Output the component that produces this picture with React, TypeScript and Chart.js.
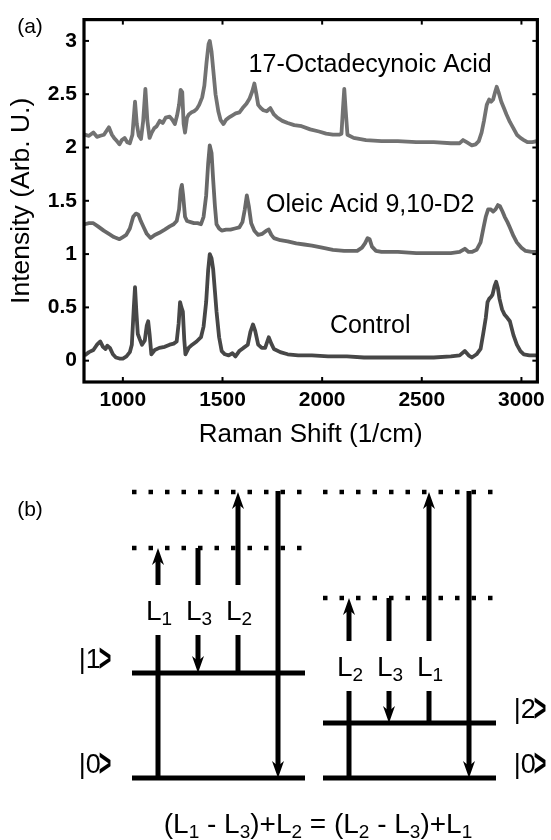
import React, { useEffect, useRef } from 'react';
import { Chart, registerables } from 'chart.js';

Chart.register(...registerables);

const FONT = '"Liberation Sans", Arial, Helvetica, sans-serif';

// ---------- Panel (a) data ----------
const xTicks = [1000, 1500, 2000, 2500, 3000];
const yTicks = [0, 0.5, 1, 1.5, 2, 2.5, 3];
const seriesNames = ['17-Octadecynoic Acid', 'Oleic Acid 9,10-D2', 'Control'];

const octShift = [808, 830, 852, 870, 887, 905, 930, 945, 956, 970, 983, 995, 1009, 1022, 1035, 1048, 1061, 1070, 1080, 1091, 1102, 1113, 1123, 1134, 1145, 1157, 1170, 1185, 1200, 1215, 1235, 1248, 1261, 1272, 1282, 1290, 1298, 1305, 1312, 1322, 1331, 1345, 1357, 1370, 1383, 1398, 1409, 1420, 1430, 1436, 1445, 1453, 1465, 1479, 1490, 1505, 1518, 1531, 1548, 1566, 1585, 1601, 1620, 1636, 1650, 1660, 1670, 1679, 1692, 1705, 1722, 1740, 1758, 1775, 1800, 1827, 1860, 1897, 1940, 1984, 2020, 2054, 2085, 2097, 2104, 2111, 2118, 2127, 2158, 2220, 2298, 2380, 2472, 2560, 2646, 2690, 2707, 2725, 2751, 2770, 2786, 2800, 2812, 2826, 2838, 2848, 2858, 2868, 2876, 2885, 2899, 2912, 2925, 2942, 2960, 2977, 2995, 3012, 3030, 3055, 3078];
const octIntensity = [2.12, 2.11, 2.14, 2.10, 2.11, 2.12, 2.19, 2.12, 2.09, 2.06, 2.03, 2.07, 2.09, 2.05, 2.04, 2.12, 2.43, 2.22, 2.11, 2.08, 2.25, 2.55, 2.25, 2.09, 2.14, 2.18, 2.20, 2.25, 2.23, 2.28, 2.29, 2.26, 2.22, 2.30, 2.40, 2.54, 2.52, 2.22, 2.14, 2.28, 2.31, 2.33, 2.34, 2.36, 2.40, 2.47, 2.58, 2.80, 2.97, 3.00, 2.90, 2.74, 2.50, 2.34, 2.26, 2.22, 2.26, 2.28, 2.30, 2.32, 2.33, 2.37, 2.41, 2.46, 2.53, 2.60, 2.50, 2.40, 2.37, 2.35, 2.34, 2.37, 2.31, 2.28, 2.25, 2.23, 2.21, 2.20, 2.17, 2.15, 2.13, 2.12, 2.12, 2.13, 2.35, 2.55, 2.35, 2.12, 2.09, 2.07, 2.06, 2.06, 2.05, 2.05, 2.04, 2.04, 2.07, 2.05, 2.02, 2.03, 2.06, 2.14, 2.25, 2.40, 2.45, 2.43, 2.45, 2.52, 2.57, 2.52, 2.43, 2.37, 2.31, 2.24, 2.18, 2.12, 2.09, 2.07, 2.05, 2.05, 2.06];

const oleShift = [808, 830, 852, 875, 904, 930, 955, 983, 1000, 1017, 1035, 1052, 1066, 1078, 1090, 1105, 1120, 1139, 1160, 1183, 1210, 1235, 1255, 1270, 1282, 1290, 1296, 1302, 1312, 1322, 1340, 1357, 1375, 1392, 1405, 1418, 1428, 1436, 1445, 1453, 1462, 1470, 1483, 1496, 1518, 1540, 1562, 1584, 1600, 1612, 1622, 1632, 1644, 1660, 1679, 1700, 1720, 1732, 1745, 1758, 1790, 1827, 1870, 1910, 1949, 2000, 2054, 2110, 2150, 2176, 2200, 2215, 2228, 2238, 2250, 2270, 2298, 2380, 2472, 2560, 2646, 2690, 2716, 2735, 2751, 2775, 2795, 2810, 2821, 2833, 2845, 2858, 2870, 2882, 2892, 2905, 2916, 2930, 2942, 2960, 2977, 3000, 3021, 3050, 3078];
const oleIntensity = [1.28, 1.29, 1.29, 1.26, 1.22, 1.19, 1.16, 1.14, 1.16, 1.18, 1.24, 1.35, 1.38, 1.37, 1.31, 1.25, 1.19, 1.15, 1.18, 1.20, 1.23, 1.26, 1.28, 1.31, 1.42, 1.60, 1.65, 1.56, 1.35, 1.31, 1.30, 1.29, 1.29, 1.28, 1.35, 1.55, 1.85, 2.02, 1.95, 1.70, 1.45, 1.28, 1.24, 1.22, 1.23, 1.23, 1.24, 1.25, 1.30, 1.42, 1.55, 1.45, 1.29, 1.22, 1.18, 1.19, 1.22, 1.23, 1.18, 1.15, 1.13, 1.12, 1.10, 1.09, 1.08, 1.06, 1.04, 1.03, 1.03, 1.03, 1.06, 1.10, 1.15, 1.14, 1.07, 1.03, 1.02, 1.02, 1.01, 1.01, 1.01, 1.02, 1.05, 1.02, 1.02, 1.04, 1.11, 1.25, 1.35, 1.42, 1.42, 1.40, 1.42, 1.46, 1.45, 1.40, 1.35, 1.30, 1.25, 1.17, 1.11, 1.06, 1.03, 1.02, 1.02];

const ctlShift = [808, 830, 852, 870, 887, 900, 913, 922, 935, 950, 965, 983, 1000, 1018, 1035, 1045, 1055, 1061, 1068, 1075, 1085, 1096, 1110, 1120, 1127, 1134, 1143, 1160, 1183, 1210, 1235, 1255, 1270, 1280, 1287, 1294, 1301, 1308, 1314, 1330, 1348, 1370, 1392, 1405, 1418, 1428, 1436, 1445, 1453, 1462, 1470, 1483, 1496, 1512, 1531, 1550, 1565, 1584, 1605, 1627, 1640, 1653, 1664, 1679, 1697, 1714, 1732, 1745, 1758, 1790, 1827, 1880, 1949, 2030, 2124, 2210, 2298, 2390, 2472, 2560, 2646, 2690, 2716, 2735, 2751, 2775, 2795, 2808, 2821, 2830, 2838, 2848, 2855, 2865, 2873, 2882, 2890, 2903, 2916, 2930, 2942, 2960, 2977, 2995, 3012, 3040, 3078];
const ctlIntensity = [0.05, 0.08, 0.10, 0.15, 0.18, 0.13, 0.11, 0.14, 0.12, 0.06, 0.03, 0.02, 0.02, 0.04, 0.08, 0.15, 0.50, 0.69, 0.45, 0.25, 0.20, 0.15, 0.19, 0.33, 0.37, 0.25, 0.06, 0.10, 0.12, 0.13, 0.15, 0.16, 0.18, 0.35, 0.55, 0.50, 0.46, 0.20, 0.06, 0.12, 0.15, 0.18, 0.22, 0.32, 0.55, 0.85, 1.00, 0.96, 0.86, 0.65, 0.46, 0.22, 0.09, 0.06, 0.05, 0.07, 0.04, 0.09, 0.12, 0.15, 0.27, 0.34, 0.28, 0.15, 0.12, 0.12, 0.22, 0.16, 0.11, 0.08, 0.06, 0.05, 0.05, 0.04, 0.04, 0.03, 0.03, 0.03, 0.03, 0.03, 0.04, 0.05, 0.09, 0.05, 0.03, 0.06, 0.11, 0.25, 0.40, 0.55, 0.58, 0.60, 0.62, 0.70, 0.74, 0.68, 0.58, 0.48, 0.43, 0.40, 0.37, 0.24, 0.15, 0.09, 0.06, 0.05, 0.05];

// ---------- Panel (b) data (energies, arbitrary units) ----------
const levelsLeft = [0, 105];      // |0>, |1>
const levelsRight = [0, 55];      // |0>, |2>
const stateNamesLeft = ['0', '1'];
const stateNamesRight = ['0', '2'];
const virtualLeft = [230, 286];
const virtualRight = [180, 286];
const beamNamesLeft = ['1', '3', '2'];
const beamFromLeft = [0, 230, 105];
const beamToLeft = [230, 105, 286];
const beamNamesRight = ['2', '3', '1'];
const beamFromRight = [0, 180, 55];
const beamToRight = [180, 55, 286];
const signalFrom = [287, 287];
const equationParts: [string, boolean][] = [
  ['(L', false], ['1', true], [' - L', false], ['3', true], [')+L', false], ['2', true],
  [' = (L', false], ['2', true], [' - L', false], ['3', true], [')+L', false], ['1', true],
];

// ---------- layout ----------
const A_W = 551, A_H = 455, B_H = 385;
const nameShift = 2241;
const nameIntensity = [2.77, 1.46, 0.328];
const groupX = [0, 4.775];
const levelSpan = [-0.65, 3.675];
const dotSpan = [-0.65, 3.6];
const labelRowE = [168, 112];
const labelGap = 25;
const stateX = [-1.575, 9.3];

const seriesColors = ['#727272', '#686868', '#474747'];

function drawRich(ctx: CanvasRenderingContext2D, parts: [string, boolean][], cx: number, baseline: number, size: number, subSize: number, drop: number) {
  let w = 0;
  const widths: number[] = [];
  for (const [t, sub] of parts) {
    ctx.font = `${sub ? subSize : size}px ${FONT}`;
    const m = ctx.measureText(t).width;
    widths.push(m);
    w += m;
  }
  let x = cx - w / 2;
  ctx.textAlign = 'left';
  ctx.textBaseline = 'alphabetic';
  parts.forEach(([t, sub], i) => {
    ctx.font = `${sub ? subSize : size}px ${FONT}`;
    ctx.fillText(t, x, sub ? baseline + drop : baseline);
    x += widths[i];
  });
}

// ket label: "|n" followed by a tall, heavy angle bracket, centred on (cx, cy)
function drawKet(ctx: CanvasRenderingContext2D, n: string, cx: number, cy: number) {
  const size = 27;
  ctx.textAlign = 'left';
  ctx.textBaseline = 'alphabetic';
  ctx.font = `${size}px ${FONT}`;
  const body = '|' + n;
  const wb = ctx.measureText(body).width;
  const capH = ctx.measureText('1').actualBoundingBoxAscent;
  ctx.font = `bold ${size}px ${FONT}`;
  const ma = ctx.measureText('>');
  const sx = 0.8, sy = 1.45;
  const wa = ma.width * sx;
  const glyphMid = (ma.actualBoundingBoxAscent - ma.actualBoundingBoxDescent) / 2;
  const total = wb + wa - 2;
  const x0 = cx - total / 2;
  const baseline = cy + capH / 2;
  ctx.font = `${size}px ${FONT}`;
  ctx.fillText(body, x0, baseline);
  ctx.save();
  ctx.font = `bold ${size}px ${FONT}`;
  ctx.translate(x0 + wb - 2, baseline - capH / 2);
  ctx.scale(sx, sy);
  ctx.fillText('>', 0, glyphMid);
  ctx.restore();
}

const frameA = {
  id: 'frameA',
  afterDatasetsDraw(chart: any) {
    const { ctx, chartArea: a, scales } = chart;
    ctx.save();
    ctx.strokeStyle = '#000';
    ctx.lineWidth = 2;
    for (const v of yTicks) {
      const y = scales.y.getPixelForValue(v);
      ctx.beginPath(); ctx.moveTo(a.left, y); ctx.lineTo(a.left + 5, y); ctx.stroke();
      ctx.beginPath(); ctx.moveTo(a.right, y); ctx.lineTo(a.right - 5, y); ctx.stroke();
    }
    for (const v of xTicks) {
      const x = scales.x.getPixelForValue(v);
      ctx.beginPath(); ctx.moveTo(x, a.bottom); ctx.lineTo(x, a.bottom - 5); ctx.stroke();
      ctx.beginPath(); ctx.moveTo(x, a.top); ctx.lineTo(x, a.top + 5); ctx.stroke();
    }
    ctx.lineWidth = 3.2;
    ctx.strokeRect(a.left, a.top, a.right - a.left, a.bottom - a.top);
    ctx.fillStyle = '#000';
    ctx.font = `25px ${FONT}`;
    ctx.textAlign = 'center';
    ctx.textBaseline = 'middle';
    seriesNames.forEach((n, i) => {
      ctx.fillText(n, scales.x.getPixelForValue(nameShift), scales.y.getPixelForValue(nameIntensity[i]));
    });
    ctx.font = `21px ${FONT}`;
    ctx.fillText('(a)', 30, 27);
    ctx.restore();
  },
};

const arrowPlugin = {
  id: 'arrows',
  beforeDatasetDraw(chart: any, args: any) {
    const ds = chart.data.datasets[args.index];
    if (!ds.arrow) return;
    const pts = args.meta.data;
    const a = pts[pts.length - 2], b = pts[pts.length - 1];
    const dx = b.x - a.x, dy = b.y - a.y;
    const len = Math.hypot(dx, dy) || 1;
    const ux = dx / len, uy = dy / len;
    ds._tip = { x: b.x, y: b.y, ux, uy };
    b.x = b.x - ux * 10;
    b.y = b.y - uy * 10;
  },
  afterDatasetDraw(chart: any, args: any) {
    const ds = chart.data.datasets[args.index];
    if (!ds.arrow || !ds._tip) return;
    const pts = args.meta.data;
    const b = pts[pts.length - 1];
    const { x, y, ux, uy } = ds._tip;
    b.x = x; b.y = y;
    const ctx = chart.ctx;
    const L = 17, W = 6, N = 5;
    const nx = -uy, ny = ux;
    ctx.save();
    ctx.fillStyle = '#000';
    ctx.beginPath();
    ctx.moveTo(x, y);
    ctx.lineTo(x - ux * L + nx * W, y - uy * L + ny * W);
    ctx.lineTo(x - ux * (L - N), y - uy * (L - N));
    ctx.lineTo(x - ux * L - nx * W, y - uy * L - ny * W);
    ctx.closePath();
    ctx.fill();
    ctx.restore();
  },
};

const textB = {
  id: 'textB',
  afterDraw(chart: any) {
    const { ctx, scales } = chart;
    const X = (v: number) => scales.x.getPixelForValue(v);
    const Y = (v: number) => scales.y.getPixelForValue(v);
    ctx.save();
    ctx.fillStyle = '#000';
    ctx.font = `21px ${FONT}`;
    ctx.textAlign = 'center';
    ctx.textBaseline = 'middle';
    ctx.fillText('(b)', 30, 55);
    [beamNamesLeft, beamNamesRight].forEach((names, g) => {
      names.forEach((n, i) => {
        drawRich(ctx, [['L', false], [n, true]], X(groupX[g] + i) + 1, Y(labelRowE[g]) + 10, 28, 19, 5);
      });
    });
    stateNamesLeft.forEach((n, i) => drawKet(ctx, n, X(stateX[0]), Y(levelsLeft[i] + 15)));
    stateNamesRight.forEach((n, i) => drawKet(ctx, n, X(stateX[1]), Y(levelsRight[i] + 15)));
    drawRich(ctx, equationParts, X(4.0), Y(-55), 28, 19, 5);
    ctx.restore();
  },
};

function buildB() {
  const ds: any[] = [];
  const line = (x0: number, x1: number, y0: number, y1: number, extra: any = {}) =>
    ds.push({ data: [{ x: x0, y: y0 }, { x: x1, y: y1 }], borderColor: '#000', borderWidth: 5, pointRadius: 0, borderCapStyle: 'butt', ...extra });
  const groups = [
    { levels: levelsLeft, virt: virtualLeft, from: beamFromLeft, to: beamToLeft },
    { levels: levelsRight, virt: virtualRight, from: beamFromRight, to: beamToRight },
  ];
  groups.forEach((g, gi) => {
    const gx = groupX[gi];
    g.levels.forEach((e) => line(gx + levelSpan[0], gx + levelSpan[1], e, e));
    g.virt.forEach((e) => line(gx + dotSpan[0], gx + dotSpan[1], e, e, { borderWidth: 4.5, borderDash: [4.5, 12] }));
    g.from.forEach((f, i) => {
      const t = g.to[i];
      const x = gx + i;
      const lo = labelRowE[gi] - labelGap, hi = labelRowE[gi] + labelGap;
      if (t > f) {
        line(x, x, f, lo);
        line(x, x, hi, t, { arrow: true });
      } else {
        line(x, x, f, hi);
        line(x, x, lo, t, { arrow: true });
      }
    });
    line(gx + 3, gx + 3, signalFrom[gi], g.levels[0], { arrow: true });
  });
  return ds;
}

export default function App() {
  const refA = useRef<HTMLCanvasElement>(null);
  const refB = useRef<HTMLCanvasElement>(null);
  useEffect(() => {
    const mk = (xs: number[], ys: number[]) => xs.map((x, i) => ({ x, y: ys[i] }));
    const chartA = new Chart(refA.current!, {
      type: 'line',
      data: {
        datasets: [
          { label: seriesNames[0], data: mk(octShift, octIntensity), borderColor: seriesColors[0] },
          { label: seriesNames[1], data: mk(oleShift, oleIntensity), borderColor: seriesColors[1] },
          { label: seriesNames[2], data: mk(ctlShift, ctlIntensity), borderColor: seriesColors[2] },
        ].map((d) => ({ ...d, borderWidth: 3.8, pointRadius: 0, tension: 0, borderJoinStyle: 'round' as const })),
      },
      options: {
        animation: false,
        responsive: false,
        devicePixelRatio: 1,
        layout: { padding: { top: 16, right: 6, left: 0, bottom: 0 } },
        plugins: { legend: { display: false }, tooltip: { enabled: false } },
        scales: {
          x: {
            type: 'linear', min: 805, max: 3080,
            grid: { display: false, drawTicks: false }, border: { display: false },
            afterBuildTicks: (s: any) => { s.ticks = xTicks.map((v) => ({ value: v })); },
            afterFit: (s: any) => { s.height = 73; },
            ticks: { padding: 6, color: '#000', autoSkip: false, maxRotation: 0, font: { family: FONT, size: 21, weight: 'bold' }, callback: (v: any) => String(v) },
            title: { display: true, text: 'Raman Shift (1/cm)', color: '#000', font: { family: FONT, size: 26 }, padding: { top: 0, bottom: 4.5 } },
          },
          y: {
            type: 'linear', min: -0.2, max: 3.2,
            grid: { display: false, drawTicks: false }, border: { display: false },
            afterBuildTicks: (s: any) => { s.ticks = yTicks.map((v) => ({ value: v })); },
            afterFit: (s: any) => { s.width = 84; },
            ticks: { padding: 7, color: '#000', autoSkip: false, font: { family: FONT, size: 21, weight: 'bold' }, callback: (v: any) => String(v) },
            title: { display: true, text: 'Intensity (Arb. U.)', color: '#000', font: { family: FONT, size: 26.5 }, padding: { top: 6, bottom: 0 } },
          },
        },
      } as any,
      plugins: [frameA],
    });
    const chartB = new Chart(refB.current!, {
      type: 'line',
      data: { datasets: buildB() },
      options: {
        animation: false,
        responsive: false,
        devicePixelRatio: 1,
        layout: { padding: 0 },
        plugins: { legend: { display: false }, tooltip: { enabled: false } },
        scales: {
          x: { type: 'linear', min: -3.95, max: 9.825, display: false },
          y: { type: 'linear', min: -62, max: 323, display: false },
        },
      } as any,
      plugins: [arrowPlugin, textB],
    });
    return () => { chartA.destroy(); chartB.destroy(); };
  }, []);
  return (
    <div style={{ position: 'absolute', left: 0, top: 0, width: A_W, height: A_H + B_H, background: '#fff' }}>
      <canvas ref={refA} width={A_W} height={A_H} style={{ display: 'block' }} />
      <canvas ref={refB} width={A_W} height={B_H} style={{ display: 'block' }} />
    </div>
  );
}
